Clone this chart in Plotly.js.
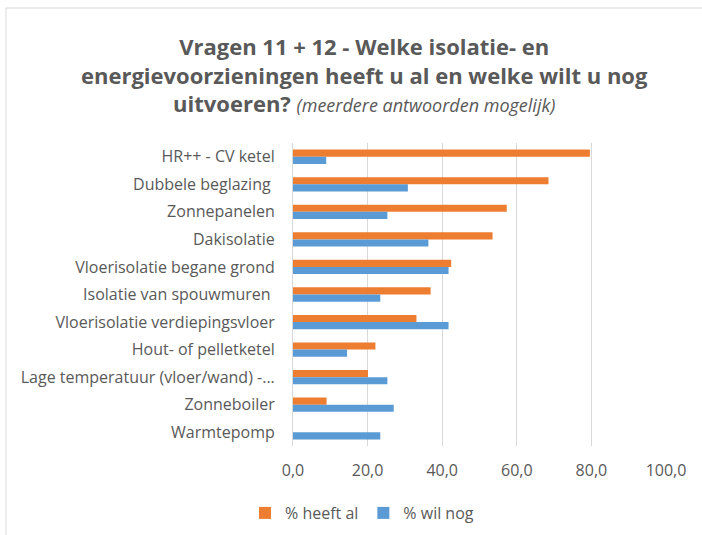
<!DOCTYPE html>
<html>
<head>
<meta charset="utf-8">
<script src="https://cdn.plot.ly/plotly-3.0.1.min.js"></script>
<style>html,body{margin:0;padding:0;background:#fff;}#chart{width:702px;height:535px;}</style>
</head>
<body>
<div id="chart"></div>
<script>
const categories = [
  "HR++ - CV ketel",
  "Dubbele beglazing\u00a0",
  "Zonnepanelen",
  "Dakisolatie",
  "Vloerisolatie begane grond",
  "Isolatie van spouwmuren\u00a0",
  "Vloerisolatie verdiepingsvloer",
  "Hout- of pelletketel",
  "Lage temperatuur (vloer/wand) -...",
  "Zonneboiler",
  "Warmtepomp"
];
const heeftAl = [79.6, 68.5, 57.3, 53.5, 42.4, 36.9, 33.1, 22.1, 20.1, 9.0, 0];
const wilNog  = [8.9, 30.8, 25.3, 36.3, 41.7, 23.4, 41.7, 14.5, 25.3, 27.0, 23.4];
const seriesNames = ["% heeft al", "% wil nog"];
const tickVals = [0, 20, 40, 60, 80, 100];
const titleText = "<b>Vragen 11 + 12 - Welke isolatie- en</b><br>" +
  "<b>energievoorzieningen heeft u al en welke wilt u nog</b><br>" +
  "<b>uitvoeren?</b> <i><span style='font-size:18px'>(meerdere antwoorden mogelijk)</span></i>";

const textColor = "#595959";
const font = "'Open Sans', sans-serif";

const M = {l: 293, r: 36, t: 143, b: 89};
const plotH = 535 - M.t - M.b;
const plotW = 702 - M.l - M.r;
const px2x = p => (p - M.l) / plotW;
const px2y = p => (535 - M.b - p) / plotH;

const traces = [
  {type: "bar", orientation: "h", name: seriesNames[0], y: categories, x: heeftAl,
   marker: {color: "#ED7D31"}, hoverinfo: "x"},
  {type: "bar", orientation: "h", name: seriesNames[1], y: categories, x: wilNog,
   marker: {color: "#5B9BD5"}, hoverinfo: "x"}
];

const layout = {
  width: 702, height: 535,
  margin: M,
  paper_bgcolor: "#fff", plot_bgcolor: "#fff",
  font: {family: font, color: textColor, size: 16},
  annotations: [{
    text: titleText, xref: "paper", yref: "paper", x: px2x(364), y: px2y(75),
    xanchor: "center", yanchor: "middle", showarrow: false, align: "center",
    font: {family: font, size: 22, color: textColor}
  }],
  barmode: "group",
  bargap: 0.48,
  bargroupgap: 0,
  xaxis: {
    range: [0, 100],
    tickvals: tickVals,
    tickformat: ".1f",
    showgrid: true, gridcolor: "#D9D9D9", gridwidth: 1,
    zeroline: false, showline: false, ticks: "",
    ticklabelstandoff: 13,
    tickfont: {size: 16, color: textColor, family: font},
    automargin: false,
    fixedrange: true
  },
  yaxis: {
    autorange: "reversed",
    showgrid: false, zeroline: false, showline: true, linecolor: "#D9D9D9", linewidth: 1,
    ticks: "", ticklabelstandoff: 14,
    tickfont: {size: 16, color: textColor, family: font},
    automargin: false,
    fixedrange: true
  },
  separators: ", ",
  showlegend: true,
  legend: {
    orientation: "h", xref: "container", yref: "container",
    x: 245 / 702, xanchor: "left", y: 1 - 496 / 535, yanchor: "top",
    font: {size: 16, color: textColor, family: font},
    itemwidth: 30, traceorder: "normal"
  },
  shapes: [
    {type: "rect", xref: "paper", yref: "paper",
     x0: px2x(6), x1: 1.2, y0: -1, y1: px2y(8),
     line: {color: "#D9D9D9", width: 1}, fillcolor: "rgba(0,0,0,0)", layer: "below"}
  ]
};

Plotly.newPlot("chart", traces, layout, {displayModeBar: false, staticPlot: true});
</script>
</body>
</html>
